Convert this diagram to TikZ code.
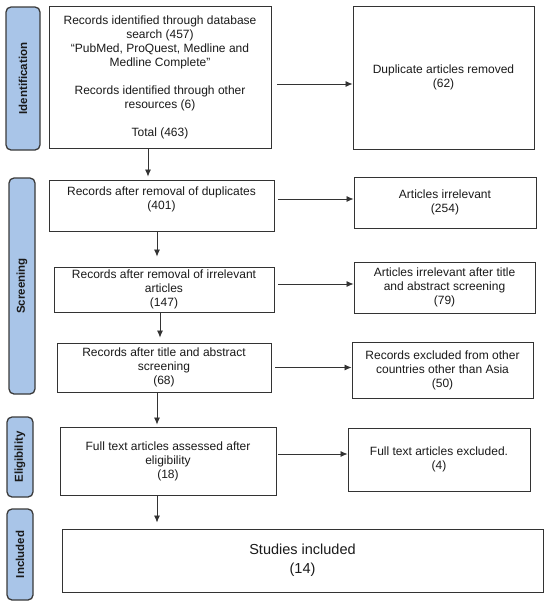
\documentclass[tikz,border=0pt]{standalone}
\usepackage{fontspec}
\setmainfont{Liberation Sans}
\usetikzlibrary{arrows.meta}
\definecolor{lblfill}{HTML}{A9C5E8}
\definecolor{lbldraw}{HTML}{3A3A3A}
\definecolor{boxdraw}{HTML}{333333}
\definecolor{txtcol}{HTML}{1A1A1A}
\begin{document}
\begin{tikzpicture}[x=1pt,y=-1pt,
  box/.style={draw=boxdraw, line width=0.9pt, fill=white, align=center, inner sep=2pt,
    font=\fontsize{12}{14}\selectfont, text=txtcol},
  lbl/.style={draw=lbldraw, line width=1.3pt, fill=lblfill, rounded corners=5pt, rotate=90,
    font=\bfseries\fontsize{11.5}{13}\selectfont, text=txtcol, inner sep=0pt},
  arr/.style={draw=boxdraw, line width=0.8pt, -{Latex[length=7pt,width=6pt]}}]
\useasboundingbox (0,0) rectangle (550,603);

% phase labels
\node[lbl, minimum width=143pt, minimum height=34pt] (lid) at (23,78.5) {Identification};
\node[lbl, minimum width=216pt, minimum height=26pt] (lsc) at (22,286) {Screening};
\node[lbl, minimum width=80pt, minimum height=26pt] (lel) at (20,457) {Eligibility};
\node[lbl, minimum width=91pt, minimum height=26pt] (lin) at (20,554.5) {Included};

% main column
\node[box, minimum width=222pt, minimum height=142pt] (b1) at (160,77)
  {Records identified through database\\search (457)\\“PubMed, ProQuest, Medline and\\Medline Complete”\\[14pt]Records identified through other\\resources (6)\\[14pt]Total (463)};
\node[box, minimum width=225pt, minimum height=51pt] (b2) at (161.5,205.5)
  {Records after removal of duplicates\\(401)\\\mbox{}};
\node[box, minimum width=220pt, minimum height=45pt] (b3) at (164,289.5)
  {Records after removal of irrelevant\\articles\\(147)};
\node[box, minimum width=214pt, minimum height=49pt] (b4) at (164,367.5)
  {Records after title and abstract\\screening\\(68)};
\node[box, minimum width=216pt, minimum height=68pt] (b5) at (168,461)
  {Full text articles assessed after\\eligibility\\(18)};
\node[box, line width=1pt, minimum width=481pt, minimum height=63pt,
  font=\fontsize{14.5}{19}\selectfont] (b6) at (302.5,560.5)
  {Studies included\\(14)};

% right column
\node[box, minimum width=181pt, minimum height=143pt] (dup) at (443.5,77.5)
  {Duplicate articles removed\\(62)};
\node[box, minimum width=182pt, minimum height=51pt] (irr) at (445,202.5)
  {Articles irrelevant\\(254)};
\node[box, minimum width=181pt, minimum height=51pt] (irr2) at (444.5,287.5)
  {Articles irrelevant after title\\and abstract screening\\(79)};
\node[box, minimum width=181pt, minimum height=56pt] (exc) at (442.5,370)
  {Records excluded from other\\countries other than Asia\\(50)};
\node[box, minimum width=182pt, minimum height=63pt] (fte) at (439,459.5)
  {Full text articles excluded.\\(4)};

% vertical arrows
\draw[arr, shorten >=3pt] ([xshift=-12pt]b1.south) -- ([xshift=-13.5pt]b2.north);
\draw[arr, shorten >=10pt] ([xshift=-4.5pt]b2.south) -- ([xshift=-7pt]b3.north);
\draw[arr, shorten >=5pt] ([xshift=-4pt]b3.south) -- ([xshift=-4pt]b4.north);
\draw[arr, shorten >=2pt] ([xshift=-7pt]b4.south) -- ([xshift=-11pt]b5.north);
\draw[arr, shorten >=6pt] ([xshift=-11pt]b5.south) -- ([xshift=-145.5pt]b6.north);

% horizontal arrows
\draw[arr] ([xshift=6pt,yshift=-7pt]b1.east) -- ([yshift=-6.5pt]dup.west);
\draw[arr] ([xshift=4pt,yshift=6.5pt]b2.east) -- ([yshift=3.5pt]irr.west);
\draw[arr] ([xshift=4pt,yshift=5.5pt]b3.east) -- ([yshift=3.5pt]irr2.west);
\draw[arr] ([xshift=4pt]b4.east) -- ([yshift=2.5pt]exc.west);
\draw[arr] ([xshift=2pt,yshift=7pt]b5.east) -- ([yshift=5.5pt]fte.west);
\end{tikzpicture}
\end{document}
